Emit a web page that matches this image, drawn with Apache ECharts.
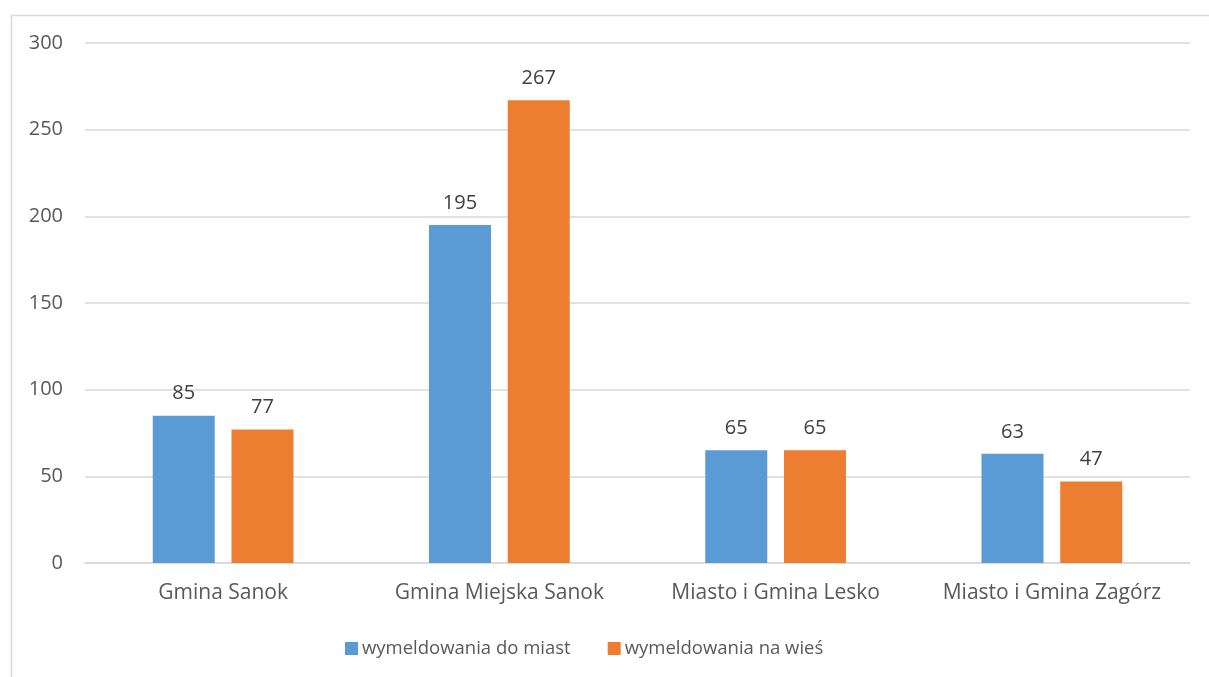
<!DOCTYPE html>
<html>
<head>
<meta charset="utf-8">
<script src="https://cdn.jsdelivr.net/npm/echarts@6/dist/echarts.min.js"></script>
<style>
  html, body { margin: 0; padding: 0; background: #fff; }
  #chart { width: 1209px; height: 677px; }
</style>
</head>
<body>
<div id="chart"></div>
<script>
const categories = ['Gmina Sanok', 'Gmina Miejska Sanok', 'Miasto i Gmina Lesko', 'Miasto i Gmina Zagórz']
const toCities = [85, 195, 65, 63]
const toVillages = [77, 267, 65, 47]
const seriesNames = ['wymeldowania do miast', 'wymeldowania na wieś']

const font = '"Open Sans", "Noto Sans", sans-serif'

const chart = echarts.init(document.getElementById('chart'))

const labelStyle = {
  show: true,
  position: 'top',
  distance: 12,
  color: '#404040',
  fontSize: 20,
  fontFamily: font,
}

chart.setOption({
  animation: false,
  graphic: [{
    type: 'rect',
    left: 9,
    top: 13,
    shape: { width: 1400, height: 900 },
    style: { fill: 'none', stroke: '#d9d9d9', lineWidth: 1.5 },
    silent: true,
  }],
  grid: {
    left: 85,
    right: 19,
    top: 43,
    bottom: 114,
  },
  legend: {
    left: 340,
    top: 634,
    itemWidth: 13,
    itemHeight: 13,
    itemGap: 37,
    icon: 'rect',
    textStyle: { color: '#595959', fontSize: 18.5, fontFamily: font, padding: [0, 0, 0, -1] },
    data: seriesNames,
  },
  xAxis: {
    type: 'category',
    data: categories,
    axisLine: { lineStyle: { color: '#d9d9d9', width: 1.5 } },
    axisTick: { show: false },
    axisLabel: { interval: 0, color: '#595959', fontSize: 21, fontFamily: font, margin: 20 },
  },
  yAxis: {
    type: 'value',
    min: 0,
    max: 300,
    interval: 50,
    axisLine: { show: false },
    axisTick: { show: false },
    splitLine: { lineStyle: { color: '#d9d9d9', width: 1.5 } },
    axisLabel: { color: '#595959', fontSize: 20, fontFamily: font, margin: 22 },
  },
  series: [{
    name: seriesNames[0],
    type: 'bar',
    data: toCities,
    barWidth: 62,
    barGap: '27%',
    itemStyle: { color: '#5b9bd5' },
    label: labelStyle,
  }, {
    name: seriesNames[1],
    type: 'bar',
    data: toVillages,
    barWidth: 62,
    barGap: '27%',
    itemStyle: { color: '#ed7d31' },
    label: labelStyle,
  }],
})
</script>
</body>
</html>
